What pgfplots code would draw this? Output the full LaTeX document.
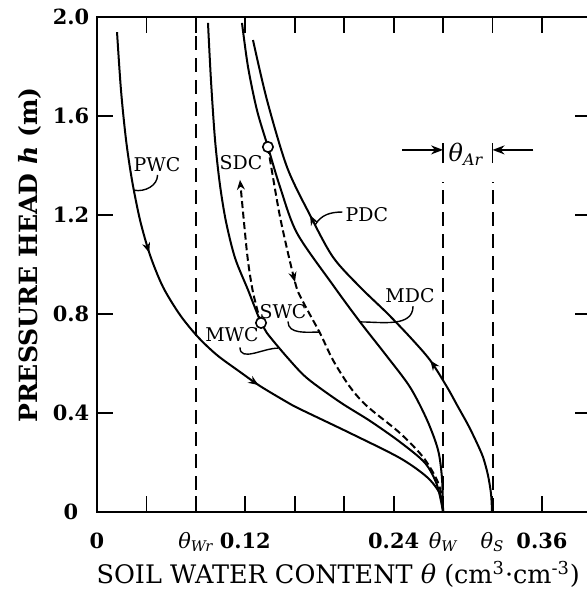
\documentclass[border=0pt]{standalone}
\usepackage{fontspec}
\setmainfont{DejaVu Serif}
\usepackage{pgfplots}
\pgfplotsset{compat=1.18}
\usetikzlibrary{arrows.meta,decorations.markings}
\tikzset{
  curve/.style={line width=1bp, black, smooth},
  sdash/.style={dash pattern=on 3.5bp off 1.8bp},
  vdash/.style={line width=1bp, black, dash pattern=on 7bp off 4bp},
  lbl/.style={font=\fontsize{9.5}{10}\selectfont, inner sep=0pt},
  lead/.style={line width=0.7bp, black},
}
\begin{document}
\begin{tikzpicture}
\useasboundingbox (-48.5bp,-39bp) rectangle (245bp,256bp);
\begin{axis}[
  at={(0,0)}, anchor=south west,
  scale only axis, width=247.2bp, height=247.5bp,
  xmin=0, xmax=0.40, ymin=0, ymax=2.0,
  axis line style={line width=1.2bp},
  tick align=inside, major tick length=8bp,
  tick style={line width=0.9bp, black},
  xtick={0,0.04,0.08,0.12,0.16,0.20,0.24,0.28,0.32,0.36,0.40},
  xticklabels={0,,{\mdseries\itshape θ\textsubscript{Wr}},0.12,,,0.24,{\mdseries\itshape θ\textsubscript{W}},{\mdseries\itshape θ\textsubscript{S}},0.36,},
  ytick={0,0.4,0.8,1.2,1.6,2.0},
  yticklabels={0,0.4,0.8,1.2,1.6,2.0},
  xticklabel style={font=\fontsize{10.5}{12}\selectfont\bfseries, anchor=base, yshift=-18bp},
  yticklabel style={font=\fontsize{10.5}{12}\selectfont\bfseries, anchor=center, xshift=-13bp},
  xlabel={SOIL WATER CONTENT \textit{θ} (cm\textsuperscript{3}·cm\textsuperscript{-3})},
  xlabel style={at={(axis description cs:0.488,0)}, anchor=base, yshift=-35.5bp, font=\fontsize{12.8}{15}\selectfont},
  ylabel={\bfseries PRESSURE HEAD \textit{h} (m)},
  ylabel style={at={(axis description cs:-0.1355,0.519)}, anchor=center, font=\fontsize{12.6}{14}\selectfont},
  clip=false,
]
% reference lines
\addplot[vdash] coordinates {(0.08,0) (0.08,2.0)};
\addplot[vdash] coordinates {(0.28,0) (0.28,1.335)};
\addplot[vdash] coordinates {(0.32,0) (0.32,1.335)};

% PWC
\addplot[curve, postaction={decorate}, decoration={markings,
  mark=at position 0.354 with {\arrow{Stealth[length=5bp,width=4bp]}},
  mark=at position 0.632 with {\arrow{Stealth[length=5bp,width=4bp]}}}]
coordinates {(0.0162,1.939) (0.0194,1.705) (0.0235,1.503) (0.0283,1.341) (0.0348,1.180) (0.0429,1.038) (0.0534,0.909) (0.0672,0.796) (0.0817,0.707) (0.0971,0.634) (0.1157,0.566) (0.1319,0.509) (0.1537,0.444) (0.1642,0.416) (0.2047,0.319) (0.2451,0.218) (0.2670,0.141) (0.2775,0.073) (0.2800,0)};

% MWC
\addplot[curve] coordinates {(0.0898,1.976) (0.0922,1.745) (0.0955,1.503) (0.0995,1.321) (0.1044,1.172) (0.1117,1.026) (0.1222,0.897) (0.1327,0.764) (0.1375,0.723) (0.1537,0.626) (0.1699,0.541) (0.1966,0.444) (0.2209,0.368) (0.2451,0.283) (0.2654,0.198) (0.2751,0.109) (0.2800,0)};

% SDC (dashed, from MWC reversal point upward)
\addplot[curve, sdash, -{Stealth[length=5bp,width=4bp]}] coordinates {(0.1327,0.764) (0.1294,0.822) (0.1254,0.909) (0.1214,1.046) (0.1157,1.342)};

% MDC
\addplot[curve] coordinates {(0.1173,1.976) (0.1222,1.798) (0.1294,1.624) (0.1383,1.475) (0.1481,1.313) (0.1618,1.127) (0.1909,0.917) (0.2128,0.768) (0.2338,0.634) (0.2532,0.505) (0.2670,0.372) (0.2759,0.251) (0.2791,0.137) (0.2800,0)};

% SWC (dashed, from MDC reversal point downward)
\addplot[curve, sdash, postaction={decorate}, decoration={markings,
  mark=at position 0.33 with {\arrow[solid]{Stealth[length=5bp,width=4bp]}}}]
coordinates {(0.1383,1.475) (0.1481,1.192) (0.1602,0.929) (0.1659,0.857) (0.1804,0.723) (0.1909,0.614) (0.2047,0.505) (0.2184,0.428) (0.2451,0.319) (0.2638,0.222) (0.2751,0.129) (0.2791,0.061) (0.2800,0)};

% PDC (from theta_S upward)
\addplot[curve, postaction={decorate}, decoration={markings,
  mark=at position 0.307 with {\arrow{Stealth[length=5bp,width=4bp]}},
  mark=at position 0.658 with {\arrow{Stealth[length=5bp,width=4bp]}}}]
coordinates {(0.3196,0) (0.3188,0.073) (0.3163,0.149) (0.3123,0.222) (0.3066,0.287) (0.3002,0.352) (0.2913,0.432) (0.2832,0.505) (0.2694,0.614) (0.2532,0.707) (0.2346,0.804) (0.2128,0.909) (0.1909,1.030) (0.1723,1.200) (0.1537,1.394) (0.1375,1.665) (0.1262,1.907)};

% reversal points
\addplot[only marks, mark=*, mark size=2.6bp, mark options={fill=white, draw=black, line width=0.8bp}] coordinates {(0.1327,0.764) (0.1383,1.475)};

% theta_Ar annotation
\draw[line width=0.9bp] (0.28,1.41) -- (0.28,1.49);
\draw[line width=0.9bp] (0.32,1.41) -- (0.32,1.49);
\draw[line width=0.9bp, -{Stealth[length=6bp,width=4.5bp]}] (0.247,1.463) -- (0.28,1.463);
\draw[line width=0.9bp, -{Stealth[length=6bp,width=4.5bp]}] (0.353,1.463) -- (0.32,1.463);
\node[font=\fontsize{12}{13}\selectfont, inner sep=0pt] at (0.2985,1.445) {\itshape θ\textsubscript{Ar}};

% curve labels and leaders
\node[lbl] at (0.0485,1.402) {PWC};
\draw[lead] (0.0300,1.300) to[out=-10,in=-90] (0.0490,1.362);
\node[lbl] at (0.1165,1.410) {SDC};
\node[lbl] at (0.2184,1.200) {PDC};
\draw[lead] (0.1985,1.212) to[out=180,in=60] (0.1765,1.160);
\node[lbl] at (0.2532,0.873) {MDC};
\draw[lead] (0.2557,0.832) to[out=-90,in=0] (0.2128,0.768);
\node[lbl] at (0.1505,0.808) {SWC};
\draw[lead] (0.1545,0.770) to[out=-90,in=180] (0.1804,0.727);
\node[lbl] at (0.1092,0.715) {MWC};
\draw[lead] (0.1157,0.665) to[out=-90,in=180] (0.1464,0.662);
\end{axis}
\end{tikzpicture}
\end{document}
